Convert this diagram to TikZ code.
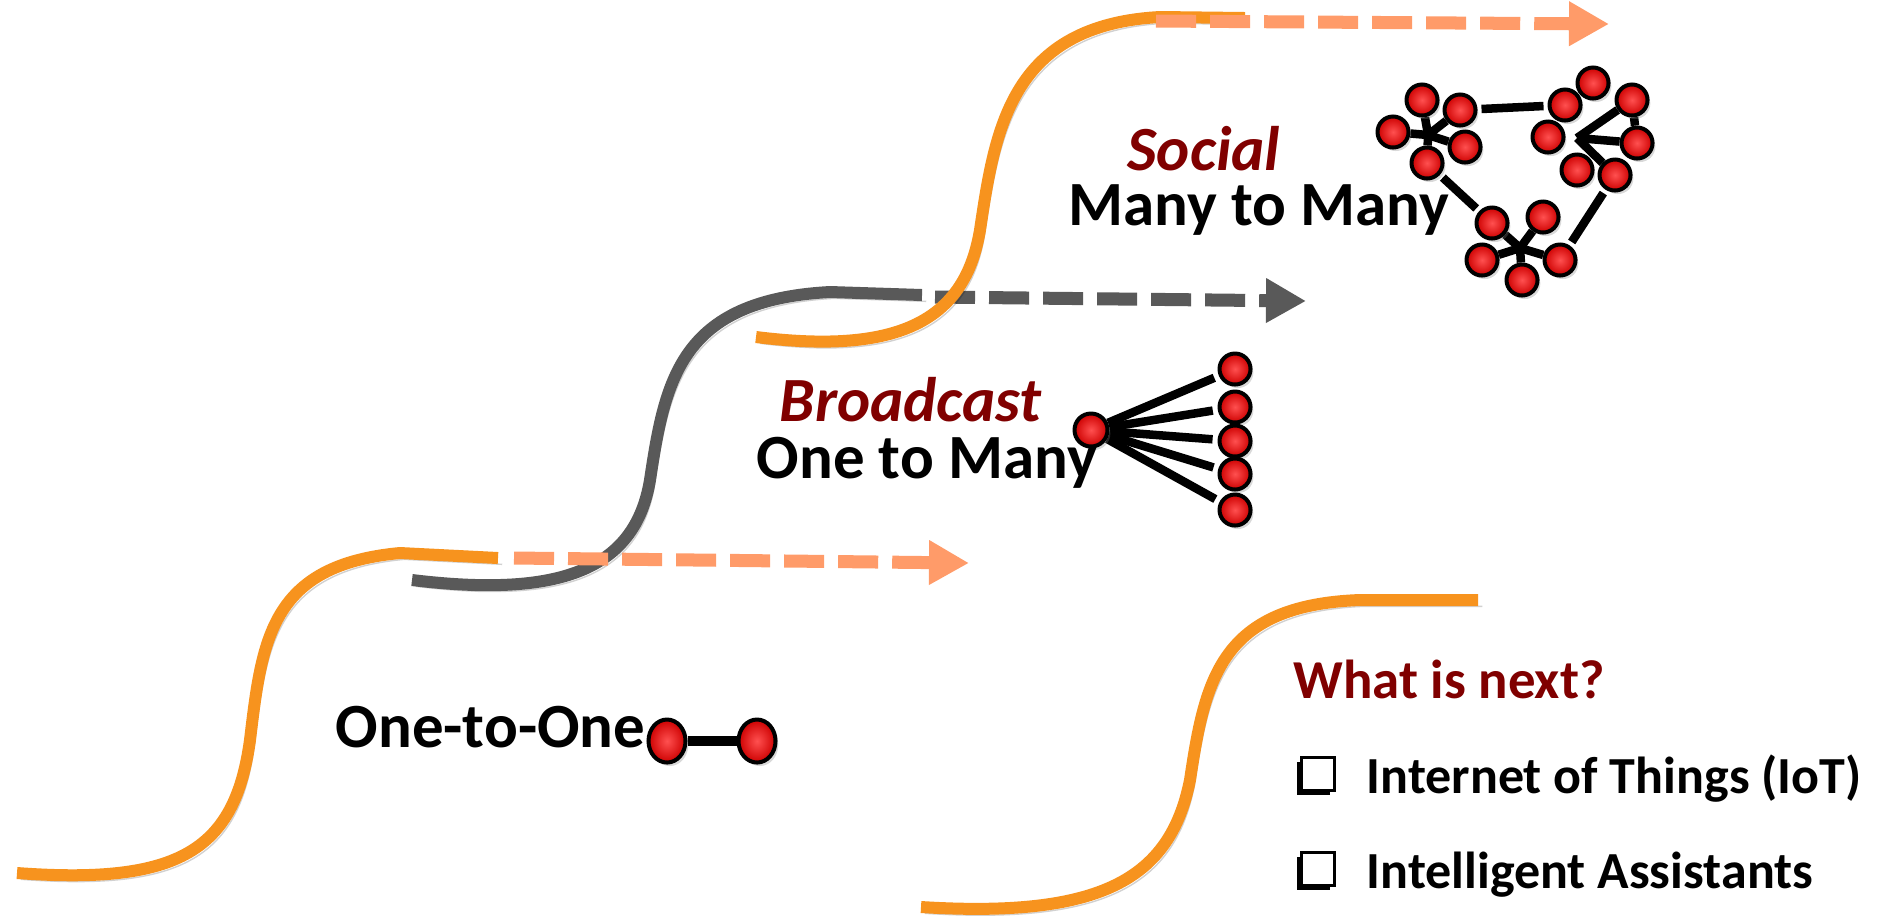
\documentclass[tikz,border=0pt]{standalone}
\usepackage{fontspec}
\setmainfont{Carlito}
\usetikzlibrary{arrows.meta,shapes.geometric,shadows,backgrounds}

\definecolor{curveOrange}{RGB}{247,147,30}
\definecolor{dashOrange}{RGB}{255,155,105}
\definecolor{curveGray}{RGB}{89,89,89}
\definecolor{darkRed}{RGB}{128,0,0}

\tikzset{
  sCurve/.style={line width=0.12cm,
    preaction={draw=black, opacity=0.18, transform canvas={xshift=1.2pt, yshift=-1.8pt}}},
  trendArrow/.style={line width=0.13cm, dash pattern=on 0.4cm off 0.14cm,
    -{Triangle[length=0.4cm, width=0.42cm]}},
  redBall/.style={circle, draw=black, line width=0.04cm, inner sep=0, minimum size=0.31cm,
    shading=radial, inner color={rgb,255:red,255;green,80;blue,80},
    outer color={rgb,255:red,205;green,0;blue,0},
    drop shadow={opacity=0.3, shadow xshift=0.8pt, shadow yshift=-1pt}},
  netLink/.style={line width=0.085cm, black},
  eraLabel/.style={inner sep=0, anchor=base west,
    font=\bfseries\fontsize{17.9pt}{20pt}\selectfont},
  eraTitle/.style={inner sep=0, anchor=base west, text=darkRed,
    font=\bfseries\itshape\fontsize{17.9pt}{20pt}\selectfont},
  nextTitle/.style={inner sep=0, anchor=base west, text=darkRed,
    font=\bfseries\fontsize{15.6pt}{18pt}\selectfont},
  nextItem/.style={inner sep=0, anchor=base west,
    font=\bfseries\fontsize{14.8pt}{18pt}\selectfont},
  chkBox/.style={draw=black, fill=white, line width=0.03cm, inner sep=0, minimum size=0.33cm,
    preaction={fill=black, transform canvas={xshift=-1.2pt, yshift=-1.2pt}}}
}

\begin{document}
\begin{tikzpicture}[x=0.01cm, y=-0.01cm]

  \useasboundingbox (0,0) rectangle (1880,917);

  \coordinate (oneEnd) at (514,558);
  \coordinate (oneTip) at (969,563);
  \coordinate (bcEnd) at (935,297);
  \coordinate (bcTip) at (1306,301);
  \coordinate (socEnd) at (1156,21);
  \coordinate (socTip) at (1609,24);

  \draw[sCurve, curveOrange] (17,873) .. controls (180,885) and (235,850) .. (250,740)
    .. controls (262,640) and (270,565) .. (400,553) -- (498,558);
  \draw[sCurve, curveGray] (412,580) .. controls (560,598) and (635,570) .. (650,480)
    .. controls (665,380) and (680,300) .. (830,292) -- (922,295);
  \draw[trendArrow, dashOrange] (oneEnd) -- (oneTip);
  \draw[trendArrow, curveGray] (bcEnd) -- (bcTip);
  \draw[sCurve, curveOrange] (756,337) .. controls (900,355) and (965,320) .. (980,230)
    .. controls (995,130) and (1010,25) .. (1160,17) -- (1245,18);
  \draw[trendArrow, dashOrange] (socEnd) -- (socTip);
  \draw[sCurve, curveOrange] (921,907) .. controls (1100,918) and (1170,880) .. (1190,780)
    .. controls (1205,680) and (1220,605) .. (1360,600) -- (1478,600);

  % one-to-one
  \node[redBall, ellipse, minimum width=0.37cm, minimum height=0.43cm] (pA) at (667,741) {};
  \node[redBall, ellipse, minimum width=0.37cm, minimum height=0.43cm] (pB) at (757,741) {};
  \draw[netLink, line width=0.1cm] (pA) -- (pB);

  % broadcast
  \node[redBall, minimum size=0.33cm] (bc) at (1091,430) {};
  \foreach \i/\y in {1/369, 2/407, 3/441, 4/474, 5/510}{
      \node[redBall] (r\i) at (1235,\y) {};
    }

  % social
  \coordinate (hubA) at (1428,135);
  \coordinate (hubB) at (1577,138);
  \coordinate (hubC) at (1520,248);
  \foreach \n/\x/\y in {a1/1422/100, a2/1460/110, a3/1393/132, a4/1465/147, a5/1427/163,
      b1/1593/83, b2/1565/105, b3/1632/100, b4/1548/137, b5/1637/143, b6/1577/170, b7/1615/175,
      c1/1492/223, c2/1543/217, c3/1482/260, c4/1522/280, c5/1560/260}{
      \node[redBall] (\n) at (\x,\y) {};
    }

  \begin{scope}[on background layer]
    \foreach \i in {1,...,5}{
        \draw[netLink, shorten >=0.05cm] (bc) -- (r\i);
      }
    \foreach \a/\b in {hubA/a1, hubA/a2, hubA/a3, hubA/a4, hubA/a5,
        hubB/b3, hubB/b5, hubB/b7, b3/b5,
        hubC/c1, hubC/c2, hubC/c3, hubC/c4, hubC/c5}{
        \draw[netLink] (\a) -- (\b);
      }
    \foreach \a/\b in {a2/b2, a5/c1, b7/c5}{
        \draw[netLink, shorten <=0.04cm, shorten >=0.04cm] (\a) -- (\b);
      }
  \end{scope}

  \node[eraLabel] (oneLbl) at (335,747) {One-to-One};
  \node[eraTitle] (bcTitle) at (779,421) {Broadcast};
  \node[eraLabel] (bcLbl) at (756,478) {One to Many};
  \node[eraTitle] (socTitle) at (1127,170) {Social};
  \node[eraLabel] (socLbl) at (1068,225) {Many to Many};

  \node[nextTitle] (nextLbl) at (1293,698) {What is next?};
  \node[chkBox] (chkIoT) at (1318,774) {};
  \node[nextItem] (iotLbl) at (1366,793) {Internet of Things (IoT)};
  \node[chkBox] (chkIA) at (1318,869) {};
  \node[nextItem] (iaLbl) at (1366,888) {Intelligent Assistants};

\end{tikzpicture}
\end{document}
